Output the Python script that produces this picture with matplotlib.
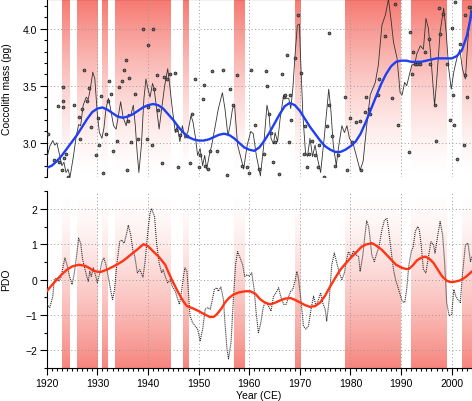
import numpy as np
import matplotlib
matplotlib.use('Agg')
import matplotlib.pyplot as plt
from matplotlib.ticker import MultipleLocator

plt.rcParams['font.family'] = ['Liberation Sans', 'DejaVu Sans']

# Years with positive PDO (shaded bands)
band_start = [1923, 1926, 1931, 1933.5, 1947, 1957, 1969, 1979, 1992, 2002]
band_end = [1924.5, 1930, 1932, 1944.5, 1948, 1959, 1970, 1990, 1999, 2004]

# Coccolith mass samples (pg)
mass_year = [1920.33, 1921.45, 1922.17, 1922.50, 1922.96, 1923.16, 1923.29, 1923.29, 1923.49, 1923.82,
             1924.28, 1925.40, 1926.39, 1926.59, 1926.92, 1927.38, 1927.91, 1928.43, 1928.76, 1929.75,
             1930.08, 1930.41, 1930.74, 1931.20, 1931.66, 1932.19, 1932.38, 1932.65, 1933.18, 1933.97,
             1934.36, 1934.82, 1935.28, 1935.68, 1935.81, 1936.01, 1936.34, 1936.67, 1937.46, 1937.98,
             1939.10, 1939.76, 1939.96, 1940.09, 1940.75, 1940.95, 1941.28, 1941.74, 1942.07, 1942.73,
             1943.25, 1943.72, 1944.37, 1945.36, 1945.56, 1945.89, 1946.35, 1947.67, 1948.33, 1948.66,
             1949.32, 1950.04, 1950.30, 1950.83, 1951.09, 1951.29, 1951.95, 1952.28, 1952.74, 1953.60,
             1954.78, 1955.57, 1956.23, 1956.89, 1957.68, 1958.58, 1959.56, 1959.89, 1960.35, 1961.21,
             1961.87, 1962.86, 1963.32, 1963.52, 1963.85, 1964.37, 1964.70, 1965.03, 1965.82, 1966.48,
             1966.81, 1967.14, 1967.47, 1967.80, 1968.13, 1968.33, 1969.12, 1969.64, 1970.30, 1970.90,
             1971.09, 1971.42, 1971.88, 1972.41, 1972.94, 1973.60, 1973.86, 1974.72, 1975.37, 1975.70,
             1975.84, 1976.36, 1977.02, 1977.55, 1978.87, 1979.33, 1979.85, 1980.32, 1981.11, 1981.96,
             1982.16, 1982.82, 1983.15, 1983.61, 1983.94, 1985.45, 1985.59, 1986.90, 1988.22, 1988.88,
             1989.34, 1991.51, 1991.84, 1992.17, 1992.31, 1992.70, 1993.16, 1993.82, 1994.81, 1995.47,
             1995.80, 1996.65, 1996.92, 1997.44, 1997.77, 1998.23, 1999.09, 1999.62, 2000.08, 2000.21,
             2000.41, 2000.61, 2001.07, 2001.59, 2002.38, 2002.52, 2002.71, 2003.04, 2003.50]
mass_val = [3.08, 2.85, 3.32, 2.83, 2.76, 3.31, 3.37, 3.49, 2.87, 2.90,
            2.70, 3.33, 3.23, 3.03, 3.30, 3.64, 3.37, 3.48, 3.14, 2.89,
            3.22, 2.98, 3.41, 2.74, 3.08, 3.37, 3.54, 3.43, 2.93, 3.02,
            3.49, 3.54, 3.64, 3.73, 2.76, 3.19, 3.57, 3.01, 3.43, 3.03,
            4.00, 3.03, 3.86, 3.31, 2.98, 4.00, 3.47, 3.59, 3.29, 2.82,
            3.58, 3.56, 3.60, 3.61, 3.11, 2.79, 3.07, 3.06, 2.82, 3.25,
            3.56, 2.79, 2.89, 3.38, 3.51, 2.80, 2.77, 2.93, 3.63, 2.93,
            3.64, 2.72, 3.47, 3.33, 3.59, 2.80, 2.79, 2.74, 3.64, 3.16,
            2.77, 2.90, 3.63, 3.50, 3.25, 3.09, 2.83, 3.01, 2.73, 3.60,
            3.40, 3.42, 3.77, 3.01, 3.42, 3.20, 3.74, 4.12, 3.61, 2.90,
            3.15, 2.79, 2.90, 3.02, 2.89, 2.79, 2.98, 2.70, 3.15, 3.96,
            3.33, 3.06, 2.80, 2.89, 3.40, 2.76, 3.22, 3.01, 3.18, 3.19,
            2.76, 3.27, 3.40, 3.30, 3.25, 3.42, 3.56, 3.94, 3.39, 4.22,
            3.16, 2.92, 3.97, 3.60, 3.80, 3.69, 3.69, 3.69, 3.80, 3.91,
            3.69, 3.33, 3.02, 4.18, 3.95, 4.13, 3.69, 3.20, 4.01, 3.42,
            3.16, 4.23, 2.86, 3.87, 2.98, 4.12, 3.59, 3.40, 4.19]

# Smoothed coccolith mass (thin line)
smooth_year = [1920.0, 1920.6, 1921.2, 1921.6, 1922.0, 1922.5, 1923.0, 1923.4, 1923.8, 1924.2,
               1924.6, 1925.3, 1925.8, 1926.3, 1926.7, 1927.2, 1927.8, 1928.2, 1928.6, 1929.1,
               1929.5, 1930.0, 1930.4, 1930.9, 1931.3, 1931.7, 1932.2, 1932.6, 1933.2, 1933.7,
               1934.2, 1934.6, 1935.1, 1935.7, 1936.1, 1936.6, 1937.1, 1937.5, 1937.8, 1938.2,
               1938.7, 1939.2, 1939.6, 1940.0, 1940.4, 1940.9, 1941.2, 1941.7, 1942.2, 1942.7,
               1943.3, 1943.9, 1944.3, 1944.8, 1945.4, 1945.8, 1946.3, 1946.8, 1947.3, 1947.9,
               1948.5, 1948.9, 1949.4, 1949.8, 1950.3, 1950.8, 1951.2, 1951.6, 1952.1, 1952.6,
               1953.3, 1953.9, 1954.7, 1955.2, 1955.8, 1956.2, 1956.7, 1957.1, 1957.7, 1958.4,
               1958.9, 1959.6, 1960.3, 1960.8, 1961.4, 1962.2, 1962.8, 1963.5, 1963.9, 1964.3,
               1964.8, 1965.1, 1965.6, 1966.1, 1966.8, 1967.3, 1967.8, 1968.2, 1968.6, 1969.1,
               1969.5, 1969.9, 1970.2, 1970.6, 1971.1, 1971.5, 1972.0, 1972.5, 1973.0, 1973.5,
               1974.1, 1974.8, 1975.7, 1976.1, 1976.6, 1977.2, 1977.6, 1978.3, 1978.8, 1979.3,
               1979.8, 1980.6, 1981.2, 1981.9, 1982.5, 1983.2, 1983.9, 1984.9, 1985.5, 1986.2,
               1986.9, 1987.5, 1988.0, 1988.5, 1989.2, 1989.8, 1990.2, 1990.7, 1991.1, 1991.6,
               1992.1, 1992.7, 1993.1, 1993.8, 1994.4, 1994.9, 1995.4, 1996.0, 1996.6, 1997.0,
               1997.7, 1998.4, 1998.9, 1999.4, 1999.9, 2000.4, 2001.0, 2001.6, 2002.1, 2002.7,
               2003.2, 2003.7, 2004.0]
smooth_val = [2.86, 2.97, 3.02, 2.98, 3.00, 2.90, 2.80, 2.83, 2.74, 2.77,
              2.70, 2.89, 3.05, 3.16, 3.15, 3.33, 3.40, 3.38, 3.47, 3.62,
              3.56, 3.25, 3.09, 3.04, 3.13, 3.30, 3.39, 3.30, 3.15, 3.12,
              3.25, 3.36, 3.22, 3.15, 3.25, 3.24, 3.33, 3.15, 2.95, 2.74,
              2.98, 3.39, 3.56, 3.47, 3.40, 3.52, 3.48, 3.30, 3.12, 3.30,
              3.50, 3.65, 3.50, 3.30, 3.09, 3.15, 3.01, 3.15, 3.04, 3.10,
              3.24, 3.18, 3.04, 2.89, 2.95, 2.80, 2.89, 2.77, 2.89, 2.98,
              3.15, 3.30, 3.44, 3.30, 3.06, 3.15, 3.30, 3.33, 2.98, 2.86,
              2.77, 2.98, 3.10, 3.08, 2.89, 2.71, 2.95, 3.33, 3.25, 3.04,
              2.99, 3.09, 3.01, 3.21, 3.42, 3.39, 3.39, 3.30, 3.47, 3.80,
              4.03, 4.04, 3.68, 3.24, 2.92, 2.88, 3.04, 2.88, 2.98, 2.86,
              2.74, 3.04, 3.47, 3.30, 2.98, 2.80, 2.95, 3.15, 3.09, 3.15,
              3.04, 2.98, 2.88, 2.76, 2.84, 3.15, 3.42, 3.53, 3.68, 4.03,
              4.12, 4.26, 4.08, 3.88, 3.74, 3.44, 3.42, 3.53, 3.50, 3.59,
              3.68, 3.69, 3.78, 3.85, 3.82, 4.09, 4.00, 3.68, 3.33, 3.53,
              3.97, 4.18, 3.97, 3.65, 3.47, 3.62, 3.74, 3.82, 3.65, 3.56,
              3.91, 4.15, 4.20]

# Long-term trend of coccolith mass (blue)
trend_year = [1920, 1921, 1922, 1923, 1924, 1925, 1926, 1927, 1928, 1929,
              1930, 1931, 1932, 1933, 1934, 1935, 1936, 1937, 1938, 1939,
              1940, 1941, 1942, 1943, 1944, 1945, 1946, 1947, 1948, 1949,
              1950, 1951, 1952, 1953, 1954, 1955, 1956, 1957, 1958, 1959,
              1960, 1961, 1962, 1963, 1964, 1965, 1966, 1967, 1968, 1969,
              1970, 1971, 1972, 1973, 1974, 1975, 1976, 1977, 1978, 1979,
              1980, 1981, 1982, 1983, 1984, 1985, 1986, 1987, 1988, 1989,
              1990, 1991, 1992, 1993, 1994, 1995, 1996, 1997, 1998, 1999,
              2000, 2001, 2002, 2003, 2004]
trend_val = [2.78, 2.80, 2.84, 2.89, 2.95, 3.01, 3.07, 3.14, 3.21, 3.27,
             3.30, 3.31, 3.29, 3.26, 3.23, 3.22, 3.23, 3.25, 3.28, 3.31,
             3.33, 3.34, 3.33, 3.30, 3.25, 3.20, 3.14, 3.09, 3.05, 3.03,
             3.02, 3.02, 3.03, 3.05, 3.07, 3.08, 3.07, 3.04, 3.00, 2.96,
             2.94, 2.93, 2.96, 3.02, 3.09, 3.17, 3.25, 3.32, 3.35, 3.33,
             3.28, 3.21, 3.14, 3.08, 3.02, 2.97, 2.94, 2.92, 2.92, 2.94,
             2.97, 3.01, 3.08, 3.18, 3.29, 3.40, 3.51, 3.60, 3.67, 3.71,
             3.72, 3.72, 3.71, 3.71, 3.71, 3.72, 3.73, 3.74, 3.74, 3.74,
             3.74, 3.76, 3.81, 3.94, 4.15]

# PDO index (dotted)
pdo_year = [1920.0, 1920.6, 1921.2, 1921.5, 1922.0, 1922.4, 1922.8, 1923.3, 1923.6, 1924.0,
            1924.5, 1925.0, 1925.4, 1925.8, 1926.3, 1926.7, 1927.1, 1927.5, 1927.9, 1928.2,
            1928.5, 1928.8, 1929.2, 1929.7, 1930.0, 1930.4, 1930.9, 1931.3, 1931.7, 1932.2,
            1932.6, 1933.0, 1933.4, 1933.8, 1934.4, 1934.8, 1935.3, 1935.8, 1936.1, 1936.6,
            1937.0, 1937.4, 1937.9, 1938.4, 1939.0, 1939.4, 1940.0, 1940.4, 1940.7, 1941.3,
            1941.7, 1942.2, 1942.7, 1943.0, 1943.5, 1943.9, 1944.4, 1944.8, 1945.4, 1945.8,
            1946.2, 1946.6, 1947.0, 1947.3, 1947.7, 1948.0, 1948.3, 1948.8, 1949.3, 1949.8,
            1950.3, 1950.8, 1951.3, 1951.8, 1952.3, 1952.6, 1953.1, 1953.6, 1953.9, 1954.4,
            1954.9, 1955.2, 1955.6, 1955.9, 1956.4, 1956.9, 1957.3, 1957.7, 1958.2, 1958.7,
            1959.1, 1959.6, 1960.0, 1960.5, 1961.0, 1961.3, 1961.8, 1962.3, 1962.8, 1963.3,
            1963.8, 1964.3, 1964.8, 1965.3, 1965.8, 1966.2, 1966.8, 1967.3, 1967.8, 1968.2,
            1968.6, 1969.1, 1969.4, 1969.7, 1970.2, 1970.7, 1971.2, 1971.7, 1972.2, 1972.7,
            1973.2, 1973.7, 1974.1, 1974.5, 1975.0, 1975.3, 1975.8, 1976.3, 1976.8, 1977.3,
            1977.8, 1978.3, 1978.8, 1979.2, 1979.6, 1980.1, 1980.6, 1981.1, 1981.6, 1981.9,
            1982.4, 1982.9, 1983.2, 1983.6, 1983.9, 1984.2, 1984.7, 1985.2, 1985.7, 1986.2,
            1986.7, 1987.2, 1987.5, 1988.0, 1988.5, 1988.9, 1989.4, 1990.2, 1990.7, 1991.1,
            1991.5, 1992.0, 1992.4, 1992.8, 1993.3, 1993.6, 1994.0, 1994.4, 1994.9, 1995.4,
            1995.9, 1996.4, 1996.7, 1997.3, 1997.7, 1998.2, 1998.6, 1999.0, 1999.5, 2000.0,
            2000.4, 2000.8, 2001.2, 2001.7, 2002.1, 2002.7, 2003.2, 2003.7, 2004.0]
pdo_val = [-0.70, -0.79, -0.47, 0.00, 0.05, -0.05, 0.05, 0.42, 0.61, 0.42,
           0.09, -0.14, 0.14, 0.56, 1.17, 1.03, 0.56, 0.33, 0.09, -0.05,
           0.23, 0.09, 0.33, 0.09, -0.09, 0.14, 0.51, 0.61, 0.42, 0.05,
           -0.28, -0.56, -0.28, 0.37, 1.07, 1.12, 1.03, 1.31, 1.54, 1.26,
           0.84, 0.65, 0.19, 0.28, 0.07, 0.47, 1.40, 1.87, 2.01, 1.78,
           1.03, 0.47, 0.19, 0.28, 0.05, -0.09, 0.00, -0.19, -0.33, -0.51,
           -0.70, -0.37, 0.09, 0.33, 0.23, -0.37, -1.03, -1.21, -1.31, -1.40,
           -1.73, -1.40, -0.84, -0.79, -0.84, -0.65, -0.28, -0.23, -0.33, -0.21,
           -0.56, -1.21, -1.96, -2.24, -1.78, -0.47, 0.42, 0.79, 0.61, 0.42,
           0.09, 0.14, 0.09, 0.19, -0.30, -0.84, -1.50, -1.21, -0.75, -0.65,
           -0.75, -0.89, -0.47, -0.37, -0.23, -0.47, -0.70, -0.70, -0.47, -0.33,
           -0.28, 0.00, 0.23, 0.05, -0.56, -1.31, -1.40, -1.31, -0.84, -0.47,
           -0.75, -0.56, -0.37, -0.65, -0.84, -1.17, -0.56, 0.42, 0.75, 0.47,
           0.19, 0.00, 0.19, 0.56, 0.79, 0.65, 0.81, 0.70, 0.65, 0.23,
           0.65, 1.31, 1.66, 1.49, 1.12, 0.70, 0.51, 0.75, 0.98, 1.40,
           1.68, 1.73, 1.45, 0.84, 0.28, 0.00, -0.23, -0.61, -0.65, -0.28,
           0.37, 0.79, 0.93, 1.36, 1.50, 1.40, 0.93, 0.28, 0.19, 0.65,
           1.07, 0.98, 0.75, 1.31, 1.64, 1.26, 0.47, -0.65, -1.03, -0.98,
           -0.28, -0.47, -0.56, -0.65, 0.14, 0.98, 1.03, 0.51, 0.65]

# Long-term PDO trend (red)
pdo_trend_year = [1920.0, 1921.0, 1922.0, 1923.0, 1924.0, 1925.0, 1926.3, 1927.6, 1928.5, 1929.2,
                  1930.5, 1931.9, 1933.0, 1933.8, 1935.0, 1935.8, 1937.0, 1937.8, 1939.1, 1940.0,
                  1940.4, 1941.0, 1942.1, 1943.4, 1944.0, 1944.7, 1946.0, 1947.0, 1947.7, 1949.0,
                  1950.0, 1951.0, 1952.3, 1953.0, 1953.6, 1954.5, 1955.2, 1956.0, 1956.9, 1958.0,
                  1959.2, 1960.2, 1961.2, 1962.2, 1963.0, 1964.1, 1965.0, 1966.1, 1967.0, 1968.1,
                  1969.0, 1970.1, 1971.0, 1972.0, 1973.0, 1974.0, 1975.0, 1976.0, 1977.0, 1978.0,
                  1979.0, 1980.0, 1981.0, 1982.2, 1983.0, 1984.2, 1985.0, 1986.2, 1987.0, 1988.2,
                  1989.0, 1990.2, 1991.0, 1991.5, 1992.3, 1993.1, 1994.0, 1994.8, 1995.5, 1996.4,
                  1997.2, 1998.1, 1999.0, 1999.7, 2000.6, 2001.7, 2002.8, 2004.0]
pdo_trend_val = [-0.33, -0.16, 0.00, 0.15, 0.28, 0.37, 0.42, 0.39, 0.32, 0.25,
                 0.21, 0.28, 0.36, 0.42, 0.52, 0.61, 0.75, 0.84, 1.00, 0.95,
                 0.89, 0.80, 0.65, 0.42, 0.22, 0.00, -0.37, -0.62, -0.75, -0.82,
                 -0.89, -0.97, -1.06, -1.05, -0.98, -0.82, -0.65, -0.52, -0.42, -0.36,
                 -0.33, -0.33, -0.40, -0.56, -0.64, -0.70, -0.66, -0.59, -0.54, -0.52,
                 -0.57, -0.65, -0.72, -0.77, -0.75, -0.65, -0.45, -0.19, 0.05, 0.28,
                 0.45, 0.61, 0.75, 0.93, 0.99, 1.03, 0.97, 0.84, 0.72, 0.54,
                 0.42, 0.33, 0.30, 0.30, 0.40, 0.54, 0.62, 0.65, 0.60, 0.47,
                 0.29, 0.09, -0.03, -0.07, -0.06, -0.02, 0.08, 0.23]

band_rgb = (0.96, 0.35, 0.31)


def shade_bands(ax, ylo, yhi, fade_down):
    # vertical gradient rectangles for each band (strong at the outer edge)
    t = np.linspace(0.0, 1.0, 256)
    alpha = 0.82 * (1 - t) ** 1.5 if fade_down else 0.74 * t ** 1.5
    img = np.zeros((256, 1, 4))
    img[:, 0, 0], img[:, 0, 1], img[:, 0, 2] = band_rgb
    img[:, 0, 3] = alpha
    for s, e in zip(band_start, band_end):
        ax.imshow(img, extent=[s, e, ylo, yhi], origin='upper', aspect='auto',
                  interpolation='bilinear', zorder=0)


def style_axis(ax):
    ax.spines['right'].set_visible(False)
    ax.tick_params(which='both', direction='out', labelsize=7.5, width=0.8, color='black', pad=2)
    ax.tick_params(which='major', length=5)
    ax.tick_params(which='minor', length=2.5)
    ax.grid(True, which='major', linestyle=(0, (1, 2.5)), color='#9a9a9a', linewidth=0.7)


fig = plt.figure(figsize=(4.72, 4.02), dpi=100)
ax1 = fig.add_axes([0.099, 0.557, 0.901, 0.443])
ax2 = fig.add_axes([0.099, 0.082, 0.901, 0.44])

# Top panel: coccolith mass
shade_bands(ax1, 2.7, 4.26, True)
ax1.plot(smooth_year, smooth_val, color='#333333', linewidth=0.6, zorder=3)
ax1.plot(mass_year, mass_val, 'o', ms=2.1, mfc='#707070', mec='#1a1a1a', mew=0.5, zorder=4)
ax1.plot(trend_year, trend_val, color='#1f3ff0', linewidth=1.7, zorder=5)
ax1.set_xlim(1920, 2004)
ax1.set_ylim(2.7, 4.26)
ax1.set_xticks(range(1920, 2005, 10))
ax1.set_yticks([3.0, 3.5, 4.0])
ax1.yaxis.set_minor_locator(MultipleLocator(0.1))
style_axis(ax1)
ax1.spines['bottom'].set_visible(False)
ax1.tick_params(axis='x', which='both', bottom=False, labelbottom=False)

# Bottom panel: PDO
shade_bands(ax2, -2.5, 2.5, False)
ax2.plot(pdo_year, pdo_val, color='#333333', linewidth=0.8, linestyle=(0, (1, 0.8)), zorder=3)
ax2.plot(pdo_trend_year, pdo_trend_val, color='#ff3515', linewidth=1.7, zorder=5)
ax2.set_xlim(1920, 2004)
ax2.set_ylim(-2.5, 2.5)
ax2.set_xticks(range(1920, 2005, 10))
ax2.xaxis.set_minor_locator(MultipleLocator(1))
ax2.set_yticks([-2, -1, 0, 1, 2])
ax2.set_yticklabels(['\u22122', '\u22121', '0', '1', '2'])
ax2.yaxis.set_minor_locator(MultipleLocator(0.5))
style_axis(ax2)
ax2.spines['top'].set_visible(False)

fig.text(0.015, 0.779, 'Coccolith mass (pg)', rotation=90, ha='center', va='center', fontsize=7.5)
fig.text(0.012, 0.303, 'PDO', rotation=90, ha='center', va='center', fontsize=7.5)
fig.text(0.549, 0.014, 'Year (CE)', ha='center', va='center', fontsize=7.5)

fig.savefig('out.png', dpi=100)
